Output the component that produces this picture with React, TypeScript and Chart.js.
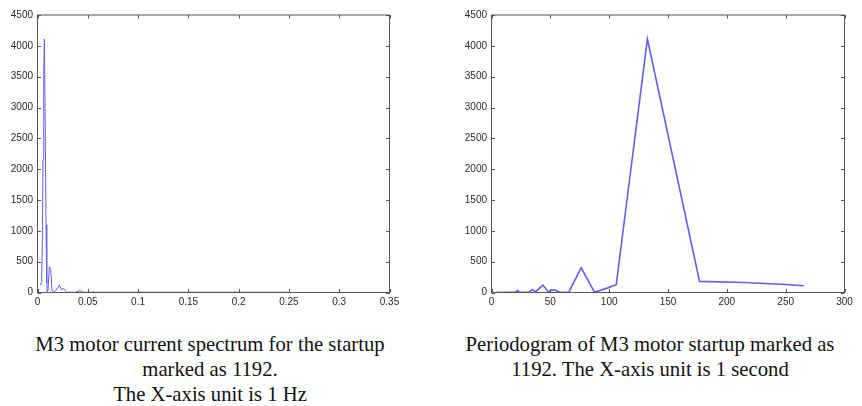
import React, { useEffect, useRef } from "react";
import { Chart, registerables } from "chart.js";

Chart.register(...registerables);

// Left: current spectrum (x in Hz)
const spectrumFreq = [0.0025, 0.0035, 0.0042, 0.0048, 0.0055, 0.0062, 0.0068, 0.0075, 0.0085, 0.0092, 0.0098, 0.0105, 0.0118, 0.0131, 0.0144, 0.0155, 0.0174, 0.0195, 0.0217, 0.0241, 0.0257, 0.0275, 0.0291, 0.033, 0.038, 0.0423, 0.046, 0.06, 0.1, 0.15, 0.2, 0.25];
const spectrumAmp = [120, 150, 180, 800, 2150, 3450, 4110, 3100, 1100, 150, 0, 50, 420, 370, 40, 0, 20, 60, 120, 40, 70, 30, 5, 5, 5, 30, 5, 5, 5, 5, 5, 5];

// Right: periodogram (x in seconds)
const periodSec = [4, 10, 20, 22.4, 23.4, 32, 34.6, 37.4, 43.6, 48.7, 50.7, 53.5, 57.8, 65.7, 76.2, 87.5, 98.9, 106, 132.5, 176.8, 215, 250, 265.4];
const periodPower = [5, 5, 5, 30, 5, 5, 50, 10, 120, 5, 35, 45, 5, 5, 400, 5, 75, 125, 4110, 180, 162, 130, 110];

const spectrumXTicks = [0, 0.05, 0.1, 0.15, 0.2, 0.25, 0.3, 0.35];
const periodXTicks = [0, 50, 100, 150, 200, 250, 300];
const yTicks = [0, 500, 1000, 1500, 2000, 2500, 3000, 3500, 4000, 4500];

const leftCaption = ["M3 motor current spectrum for the startup", "marked as 1192.", "The X-axis unit is 1 Hz"];
const rightCaption = ["Periodogram of M3 motor startup marked as", "1192. The X-axis unit is 1 second"];

const LINE_COLOR = "rgb(95,95,255)";
const FRAME_COLOR = "#555555";
const TICK_TEXT = "#2a2a2a";

const matlabFrame = {
  id: "matlabFrame",
  afterDraw(chart: any) {
    const { ctx, chartArea: a, scales } = chart;
    const L = 3.5;
    ctx.save();
    ctx.strokeStyle = FRAME_COLOR;
    ctx.lineWidth = 1;
    ctx.strokeRect(a.left, a.top, a.right - a.left, a.bottom - a.top);
    ctx.beginPath();
    scales.x.ticks.forEach((t: any) => {
      const px = Math.round(scales.x.getPixelForValue(t.value)) + 0.5;
      ctx.moveTo(px, a.bottom);
      ctx.lineTo(px, a.bottom - L);
      ctx.moveTo(px, a.top);
      ctx.lineTo(px, a.top + L);
    });
    scales.y.ticks.forEach((t: any) => {
      const py = Math.round(scales.y.getPixelForValue(t.value)) + 0.5;
      ctx.moveTo(a.left, py);
      ctx.lineTo(a.left + L, py);
      ctx.moveTo(a.right, py);
      ctx.lineTo(a.right - L, py);
    });
    ctx.stroke();
    ctx.restore();
  },
};

function fmt(v: number) {
  return String(Number(v.toFixed(4)));
}

type PlotProps = {
  xs: number[];
  ys: number[];
  xTicks: number[];
  xMax: number;
  lineWidth: number;
  padLeft: number;
  padRight: number;
  left: number;
};

function Plot({ xs, ys, xTicks, xMax, lineWidth, padLeft, padRight, left }: PlotProps) {
  const ref = useRef<HTMLCanvasElement | null>(null);
  useEffect(() => {
    if (!ref.current) return;
    const chart = new Chart(ref.current, {
      type: "line",
      data: {
        datasets: [
          {
            data: xs.map((x, i) => ({ x, y: ys[i] })),
            borderColor: LINE_COLOR,
            borderWidth: lineWidth,
            pointRadius: 0,
            tension: 0,
            fill: false,
          },
        ],
      },
      options: {
        animation: false,
        responsive: false,
        maintainAspectRatio: false,
        layout: { padding: { top: 15, left: padLeft, right: padRight, bottom: 0 } },
        plugins: { legend: { display: false }, tooltip: { enabled: false } },
        scales: {
          x: {
            type: "linear",
            min: 0,
            max: xMax,
            afterFit: (s: any) => {
              s.height = 27.5;
            },
            afterBuildTicks: (s: any) => {
              s.ticks = xTicks.map((v) => ({ value: v }));
            },
            grid: { display: false, drawTicks: false },
            border: { display: false },
            ticks: {
              padding: 4,
              maxRotation: 0,
              autoSkip: false,
              color: TICK_TEXT,
              font: { family: "'Liberation Sans', Arial, sans-serif", size: 10 },
              callback: (v: any) => fmt(Number(v)),
            },
          },
          y: {
            type: "linear",
            min: 0,
            max: 4500,
            afterFit: (s: any) => {
              s.width = 37.5;
            },
            afterBuildTicks: (s: any) => {
              s.ticks = yTicks.map((v) => ({ value: v }));
            },
            grid: { display: false, drawTicks: false },
            border: { display: false },
            ticks: {
              padding: 4.5,
              autoSkip: false,
              color: TICK_TEXT,
              font: { family: "'Liberation Sans', Arial, sans-serif", size: 10 },
              callback: (v: any) => fmt(Number(v)),
            },
          },
        },
      },
      plugins: [matlabFrame],
    });
    return () => chart.destroy();
  }, []);
  return (
    <canvas
      ref={ref}
      width={431}
      height={320}
      style={{ position: "absolute", left, top: 0, width: 431, height: 320 }}
    />
  );
}

const captionStyle: React.CSSProperties = {
  position: "absolute",
  top: 332,
  width: 440,
  textAlign: "center",
  fontFamily: "'Liberation Serif', 'Times New Roman', serif",
  fontSize: 20.7,
  lineHeight: "25px",
  color: "#111",
  whiteSpace: "nowrap",
};

export default function App() {
  return (
    <div
      style={{
        position: "absolute",
        left: 0,
        top: 0,
        width: 862,
        height: 406,
        background: "#ffffff",
        overflow: "hidden",
      }}
    >
      <Plot xs={spectrumFreq} ys={spectrumAmp} xTicks={spectrumXTicks} xMax={0.35} lineWidth={1} padLeft={0} padRight={41.5} left={0} />
      <Plot xs={periodSec} ys={periodPower} xTicks={periodXTicks} xMax={300} lineWidth={1.6} padLeft={23} padRight={17.5} left={431} />
      <div style={{ ...captionStyle, left: 210 - 220 }}>
        {leftCaption.map((l, i) => (
          <div key={i}>{l}</div>
        ))}
      </div>
      <div style={{ ...captionStyle, left: 650 - 220 }}>
        {rightCaption.map((l, i) => (
          <div key={i}>{l}</div>
        ))}
      </div>
    </div>
  );
}
